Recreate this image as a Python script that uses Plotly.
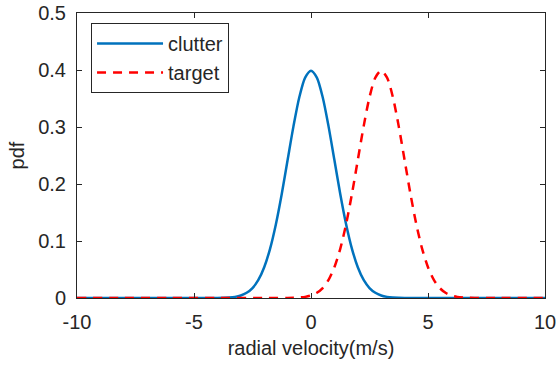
import plotly.graph_objects as go

# Values
clutter_x = [-10, -8, -6, -5, -4, -3.75, -3.5, -3.25, -3, -2.75, -2.5, -2.25, -2, -1.75, -1.5, -1.25, -1,
             -0.75, -0.5, -0.25, 0, 0.25, 0.5, 0.75, 1, 1.25, 1.5, 1.75, 2, 2.25, 2.5, 2.75, 3, 3.25,
             3.5, 3.75, 4, 5, 6, 8, 10]
clutter_y = [0, 0, 0, 0, 0.0001, 0.0004, 0.0009, 0.002, 0.0044, 0.0091, 0.0175, 0.0317, 0.054, 0.0863,
             0.1295, 0.1826, 0.242, 0.3011, 0.3521, 0.3867, 0.3989, 0.3867, 0.3521, 0.3011, 0.242, 0.1826,
             0.1295, 0.0863, 0.054, 0.0317, 0.0175, 0.0091, 0.0044, 0.002, 0.0009, 0.0004, 0.0001, 0, 0, 0, 0]

target_x = [-10, -8, -6, -4, -2, -1, -0.75, -0.5, -0.25, 0, 0.25, 0.5, 0.75, 1, 1.25, 1.5, 1.75, 2, 2.25,
            2.5, 2.75, 3, 3.25, 3.5, 3.75, 4, 4.25, 4.5, 4.75, 5, 5.25, 5.5, 5.75, 6, 6.25, 6.5, 6.75, 7,
            8, 10]
target_y = [0, 0, 0, 0, 0, 0.0001, 0.0004, 0.0009, 0.002, 0.0044, 0.0091, 0.0175, 0.0317, 0.054, 0.0863,
            0.1295, 0.1826, 0.242, 0.3011, 0.3521, 0.3867, 0.3989, 0.3867, 0.3521, 0.3011, 0.242, 0.1826,
            0.1295, 0.0863, 0.054, 0.0317, 0.0175, 0.0091, 0.0044, 0.002, 0.0009, 0.0004, 0.0001, 0, 0]

x_ticks = [-10, -5, 0, 5, 10]
x_tick_labels = ["-10", "-5", "0", "5", "10"]
y_ticks = [0, 0.1, 0.2, 0.3, 0.4, 0.5]
y_tick_labels = ["0", "0.1", "0.2", "0.3", "0.4", "0.5"]

font_family = "Liberation Sans, Arial, sans-serif"
axis_col = "#262626"
fs = 20

fig = go.Figure()
fig.add_trace(go.Scatter(x=clutter_x, y=clutter_y, mode="lines", name="clutter",
                         line=dict(color="#0072BD", width=2.5, shape="spline", smoothing=0.8)))
fig.add_trace(go.Scatter(x=target_x, y=target_y, mode="lines", name="target",
                         line=dict(color="#FF0000", width=2.5, dash="9px,7px", shape="spline", smoothing=0.8)))

axis_common = dict(showgrid=False, zeroline=False, showline=True, mirror="ticks",
                   linecolor=axis_col, linewidth=1, ticks="inside", ticklen=5, automargin=False,
                   tickcolor=axis_col, tickfont=dict(size=fs, color=axis_col, family=font_family))

fig.update_xaxes(range=[-10, 10], tickvals=x_ticks, ticktext=x_tick_labels, ticklabelstandoff=6,
                 **axis_common,
                 title=dict(text="radial velocity(m/s)", font=dict(size=fs, color=axis_col, family=font_family),
                            standoff=8))
fig.update_yaxes(range=[0, 0.5], tickvals=y_ticks, ticktext=y_tick_labels, ticklabelstandoff=6,
                 **axis_common,
                 title=dict(text="pdf", font=dict(size=fs, color=axis_col, family=font_family), standoff=8))

fig.update_layout(
    width=558, height=369,
    margin=dict(l=77, r=13, t=13, b=71),
    paper_bgcolor="white", plot_bgcolor="white",
    showlegend=True,
    legend=dict(x=0.03, y=0.965, xanchor="left", yanchor="top",
                bordercolor=axis_col, borderwidth=1, bgcolor="white",
                font=dict(size=fs, color=axis_col, family=font_family),
                itemwidth=66, tracegroupgap=0),
)

fig.write_html("out.html")
